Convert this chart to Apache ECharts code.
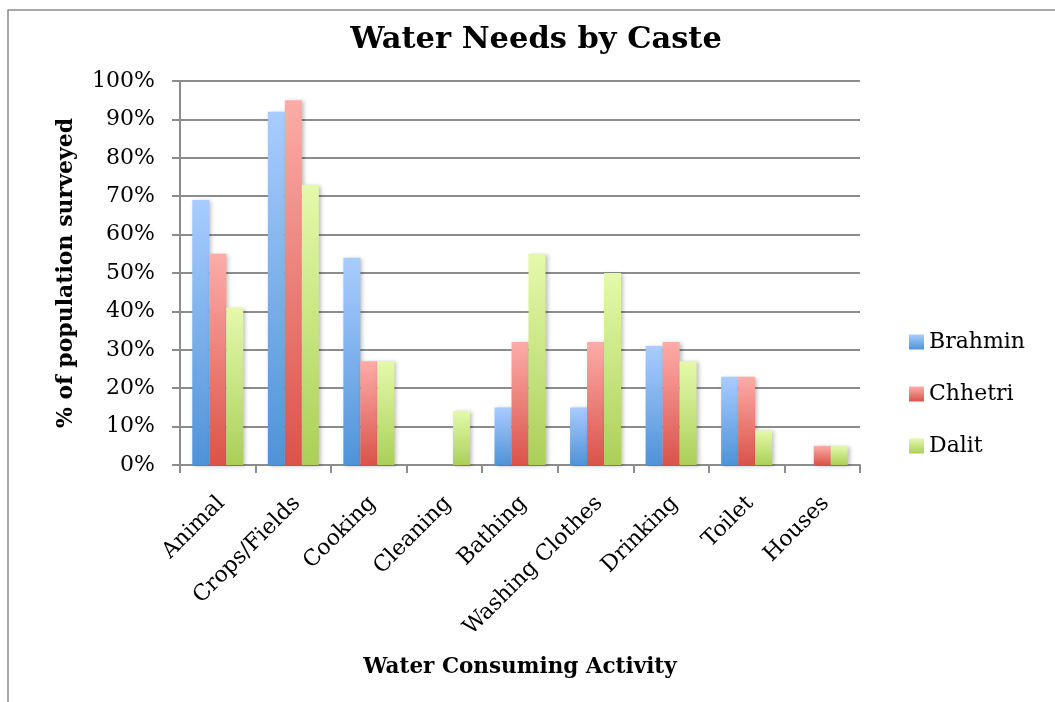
<!DOCTYPE html>
<html>
<head>
<meta charset="utf-8">
<script src="https://cdn.jsdelivr.net/npm/echarts@6/dist/echarts.min.js"></script>
<style>
  html, body { margin: 0; padding: 0; background: #fff; }
  #chart { width: 1055px; height: 702px; }
</style>
</head>
<body>
<div id="chart"></div>
<script>
// Activities surveyed and share of each caste group using water for them (%)
const activities = ['Animal', 'Crops/Fields', 'Cooking', 'Cleaning', 'Bathing', 'Washing Clothes', 'Drinking', 'Toilet', 'Houses'];
const brahmin = [69, 92, 54, 0, 15, 15, 31, 23, 0];
const chhetri = [55, 95, 27, 0, 32, 32, 32, 23, 5];
const dalit   = [41, 73, 27, 14, 55, 50, 27, 9, 5];
const yTicks = [0, 10, 20, 30, 40, 50, 60, 70, 80, 90, 100];

const FONT = 'DejaVu Serif';

function grad(top, bottom) {
  return new echarts.graphic.LinearGradient(0, 0, 0, 1, [
    { offset: 0, color: top },
    { offset: 1, color: bottom }
  ]);
}

function barSeries(name, data, top, bottom) {
  return {
    name: name,
    type: 'bar',
    data: data,
    barGap: '0%',
    barCategoryGap: '32.5%',
    itemStyle: {
      color: grad(top, bottom),
      shadowColor: 'rgba(0,0,0,0.25)',
      shadowBlur: 4,
      shadowOffsetX: 2,
      shadowOffsetY: 1
    }
  };
}

const chart = echarts.init(document.getElementById('chart'), null, { renderer: 'canvas' });
chart.setOption({
  animation: false,
  backgroundColor: '#fff',
  title: {
    text: 'Water Needs by Caste',
    left: 536,
    top: 25,
    padding: 0,
    textAlign: 'center',
    textStyle: { fontFamily: FONT, fontSize: 30.5, fontWeight: 'bold', color: '#000' }
  },
  legend: {
    orient: 'vertical',
    left: 909,
    top: 331,
    padding: 0,
    itemWidth: 15,
    itemHeight: 15,
    itemGap: 30,
    icon: 'rect',
    textStyle: { fontFamily: FONT, fontSize: 22, color: '#000' },
    data: ['Brahmin', 'Chhetri', 'Dalit']
  },
  grid: { left: 180, right: 195, top: 81, bottom: 237 },
  xAxis: {
    type: 'category',
    data: activities,
    name: 'Water Consuming Activity',
    nameLocation: 'middle',
    nameGap: 191,
    nameTextStyle: { fontFamily: FONT, fontSize: 21.5, fontWeight: 'bold', color: '#000' },
    axisLine: { lineStyle: { color: '#8c8c8c', width: 2 } },
    axisTick: { show: true, length: 8, lineStyle: { color: '#8c8c8c', width: 2 } },
    axisLabel: {
      rotate: 45, align: 'right', verticalAlign: 'top',
      fontFamily: FONT, fontSize: 22, color: '#000', margin: 23,
      padding: [0, 6, 0, 0]
    }
  },
  yAxis: {
    type: 'value',
    min: 0,
    max: 100,
    interval: 10,
    name: '% of population surveyed',
    nameLocation: 'middle',
    nameGap: 103,
    nameTextStyle: { fontFamily: FONT, fontSize: 22, fontWeight: 'bold', color: '#000' },
    axisLine: { show: true, lineStyle: { color: '#8c8c8c', width: 2 } },
    axisTick: { show: true, length: 8, lineStyle: { color: '#8c8c8c', width: 2 } },
    splitLine: { lineStyle: { color: '#8c8c8c', width: 2 } },
    axisLabel: {
      fontFamily: FONT, fontSize: 22, color: '#000', margin: 25,
      formatter: v => (yTicks.includes(v) ? v + '%' : '')
    }
  },
  graphic: [{
    type: 'rect',
    shape: { x: 8, y: 10, width: 1100, height: 720 },
    style: { fill: 'none', stroke: '#8c8c8c', lineWidth: 1.5 },
    silent: true
  }],
  series: [
    barSeries('Brahmin', brahmin, '#a9ccff', '#4e93d8'),
    barSeries('Chhetri', chhetri, '#fcaca8', '#da534a'),
    barSeries('Dalit', dalit, '#e4faab', '#abcf58')
  ]
});
</script>
</body>
</html>
